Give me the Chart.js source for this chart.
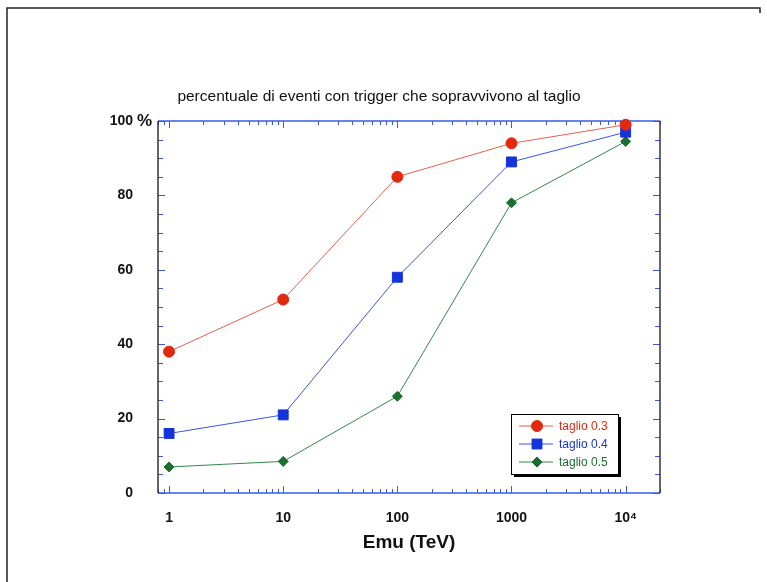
<!DOCTYPE html>
<html lang="it">
<head>
<meta charset="UTF-8">
<title>percentuale di eventi con trigger</title>
<script src="https://cdn.jsdelivr.net/npm/chart.js"></script>
<style>
  body { margin: 0; background: #fff; }
</style>
</head>
<body>
<canvas id="chart" width="767" height="582"></canvas>
<script>
// energies (TeV) and survival percentages
const energies = [1, 10, 100, 1000, 10000];
const xTicks = [1, 10, 100, 1000, 10000];
const xTickLabels = ['1', '10', '100', '1000', '10⁴'];
const yTicks = [0, 20, 40, 60, 80, 100];
const taglio03 = [38, 52, 85, 94, 99];
const taglio04 = [16, 21, 58, 89, 97];
const taglio05 = [7, 8.5, 26, 78, 94.5];

const FONT = 'Liberation Sans, Arial, Helvetica, sans-serif';
const AXIS_BLUE = '#3a5be0';

function seg(ctx, x1, y1, x2, y2) {
    ctx.beginPath();
    ctx.moveTo(x1, y1);
    ctx.lineTo(x2, y2);
    ctx.stroke();
}

// frame, axis box, inward ticks, "%" sign and the boxed legend
const decorations = {
    id: 'decorations',
    beforeDraw(chart) {
        const ctx = chart.ctx;
        ctx.save();
        ctx.fillStyle = '#fff';
        ctx.fillRect(0, 0, chart.width, chart.height);
        ctx.strokeStyle = '#222';
        ctx.lineWidth = 1.5;
        ctx.beginPath();
        ctx.moveTo(7, chart.height);
        ctx.lineTo(7, 8);
        ctx.lineTo(760, 8);
        ctx.lineTo(760, 13);
        ctx.stroke();
        ctx.restore();
    },
    beforeDatasetsDraw(chart) {
        const {ctx, chartArea: a, scales: {x, y}} = chart;
        ctx.save();
        ctx.lineWidth = 1;
        ctx.strokeStyle = AXIS_BLUE;
        // y ticks every 5 %
        for (let v = y.min; v <= y.max; v += 5) {
            const py = Math.round(y.getPixelForValue(v)) + 0.5;
            const len = v % 20 === 0 ? 7 : 5;
            seg(ctx, a.left, py, a.left + len, py);
            seg(ctx, a.right, py, a.right - len, py);
        }
        // log x ticks
        for (let d = -1; d <= 4; d++) {
            for (let k = 1; k <= 9; k++) {
                const v = k * Math.pow(10, d);
                if (v < x.min || v > x.max) continue;
                const px = Math.round(x.getPixelForValue(v)) + 0.5;
                const len = k === 1 ? 7 : 4;
                seg(ctx, px, a.bottom, px, a.bottom - len);
                seg(ctx, px, a.top, px, a.top + len);
            }
        }
        ctx.lineWidth = 1.5;
        ctx.strokeStyle = AXIS_BLUE;
        seg(ctx, a.left, a.top, a.right, a.top);
        seg(ctx, a.left, a.bottom, a.right, a.bottom);
        ctx.strokeStyle = '#333';
        seg(ctx, a.left, a.top, a.left, a.bottom);
        seg(ctx, a.right, a.top, a.right, a.bottom);
        ctx.restore();
    },
    afterDraw(chart) {
        const {ctx, chartArea: a, scales: {y}} = chart;
        ctx.save();
        ctx.fillStyle = '#111';
        ctx.font = 'bold 17px ' + FONT;
        ctx.textBaseline = 'middle';
        ctx.textAlign = 'left';
        ctx.fillText('%', a.left - 21, y.getPixelForValue(100));

        // legend box
        const bw = 107, bh = 60;
        const bx = a.right - 149, by = a.bottom - 79;
        ctx.fillStyle = '#000';
        ctx.fillRect(bx + 3, by + 3, bw, bh);
        ctx.fillStyle = '#fff';
        ctx.fillRect(bx, by, bw, bh);
        ctx.strokeStyle = '#000';
        ctx.lineWidth = 1;
        ctx.strokeRect(bx + 0.5, by + 0.5, bw, bh);
        ctx.font = '12px ' + FONT;
        chart.data.datasets.forEach((ds, i) => {
            const ly = by + 12 + i * 18;
            ctx.strokeStyle = ds.borderColor;
            ctx.lineWidth = 1;
            seg(ctx, bx + 8, ly, bx + 42, ly);
            ctx.fillStyle = ds.pointBackgroundColor;
            ctx.strokeStyle = ds.pointBorderColor;
            Chart.helpers.drawPoint(ctx, {
                pointStyle: ds.pointStyle,
                radius: ds.pointRadius,
                borderWidth: 1
            }, bx + 26, ly);
            ctx.fillStyle = ds.pointBackgroundColor;
            ctx.fillText(ds.label, bx + 48, ly + 1);
        });
        ctx.restore();
    }
};

function series(label, values, line, point, style, radius) {
    return {
        label: label,
        data: energies.map((e, i) => ({x: e, y: values[i]})),
        borderColor: line,
        borderWidth: 1,
        pointBackgroundColor: point,
        pointBorderColor: point,
        pointBorderWidth: 1,
        pointStyle: style,
        pointRadius: radius,
        pointHoverRadius: radius,
        tension: 0,
        clip: false
    };
}

const chart = new Chart(document.getElementById('chart').getContext('2d'), {
    type: 'line',
    data: {
        datasets: [
            series('taglio 0.3', taglio03, '#e8604c', '#e2290f', 'circle', 5.5),
            series('taglio 0.4', taglio04, '#3a55e6', '#1533dc', 'rect', 7),
            series('taglio 0.5', taglio05, '#2f8a4c', '#1b6d30', 'rectRot', 5)
        ]
    },
    options: {
        responsive: false,
        animation: false,
        layout: {padding: {left: 0, right: 9, top: 0, bottom: 0}},
        plugins: {
            legend: {display: false},
            tooltip: {enabled: false},
            title: {
                display: true,
                text: 'percentuale di eventi con trigger che sopravvivono al taglio',
                color: '#111',
                font: {family: FONT, size: 15.5, weight: 'normal'},
                padding: {top: 87.7, bottom: 14.7}
            }
        },
        scales: {
            x: {
                type: 'logarithmic',
                min: 0.8,
                max: 20000,
                afterBuildTicks: s => { s.ticks = xTicks.map(v => ({value: v})); },
                afterFit: s => { s.height = 89; s.paddingLeft = 0; s.paddingRight = 0; },
                grid: {display: false, drawTicks: false},
                border: {display: false},
                ticks: {
                    callback: (v, i) => xTickLabels[i],
                    color: '#111',
                    font: {family: FONT, size: 14, weight: 'bold'},
                    padding: 17,
                    maxRotation: 0,
                    autoSkip: false
                },
                title: {
                    display: true,
                    text: 'Emu (TeV)',
                    color: '#111',
                    font: {family: FONT, size: 19, weight: 'bold'},
                    padding: {top: 0, bottom: 28}
                }
            },
            y: {
                min: 0,
                max: 100,
                afterBuildTicks: s => { s.ticks = yTicks.map(v => ({value: v})); },
                afterFit: s => { s.width = 158; s.paddingTop = 0; s.paddingBottom = 0; },
                grid: {display: false, drawTicks: false},
                border: {display: false},
                ticks: {
                    callback: v => String(v),
                    color: '#111',
                    font: {family: FONT, size: 14, weight: 'bold'},
                    padding: 25
                }
            },
            // empty right-hand strip so the title can centre on the whole page
            y2: {
                position: 'right',
                min: 0,
                max: 100,
                afterFit: s => { s.width = 98; s.paddingTop = 0; s.paddingBottom = 0; },
                grid: {display: false, drawTicks: false},
                border: {display: false},
                ticks: {display: false}
            }
        }
    },
    plugins: [decorations]
});
</script>
</body>
</html>
